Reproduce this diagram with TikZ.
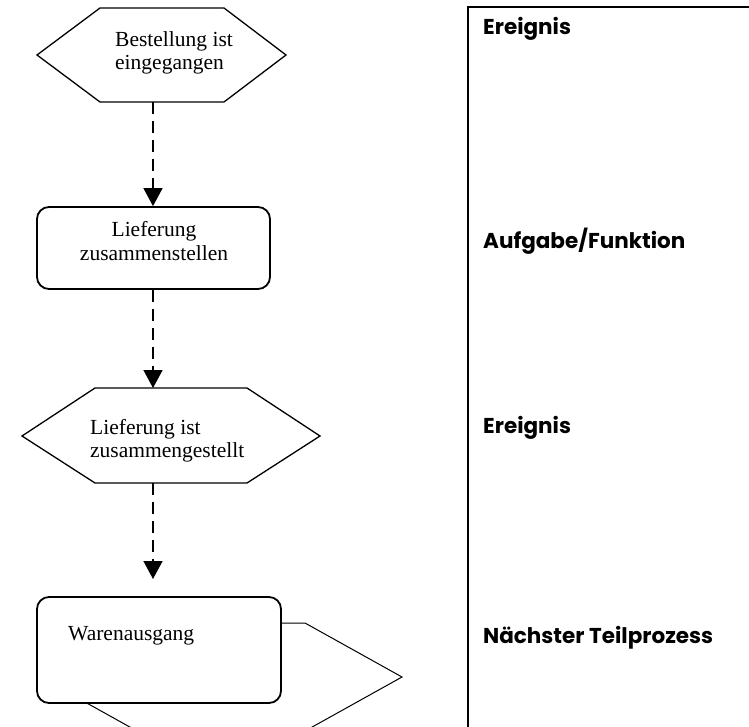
\documentclass[tikz,border=0pt]{standalone}
\usepackage{fontspec}
\setmainfont{Liberation Serif}
\newfontfamily\labelfont{Poppins}
\usetikzlibrary{arrows.meta}
\tikzset{
  evt/.style={draw=black, line width=1.3pt, line join=miter},
  evtthin/.style={draw=black, line width=1pt, fill=white},
  taskbox/.style={draw=black, line width=1.8pt, rounded corners=12pt, fill=white, inner sep=0pt},
  flow/.style={line width=1.5pt, dash pattern=on 12pt off 7pt, -{Triangle[length=18pt,width=19pt]}},
  panel/.style={draw=black, line width=1.5pt},
  lbl/.style={inner sep=0pt, font=\fontsize{21.5}{24}\selectfont},
  lblevt/.style={inner sep=0pt, font=\fontsize{21.5}{23}\selectfont},
  head/.style={inner sep=0pt, anchor=base west, font=\labelfont\bfseries\fontsize{21.5}{24}\selectfont}
}
\begin{document}
\begin{tikzpicture}[x=1pt,y=-1pt]
\useasboundingbox (0,0) rectangle (749,727);
\clip (0,0) rectangle (749,727);
% event 1
\draw[evt] (37,55) -- (100,8) -- (224,8) -- (286,55) -- (224,102) -- (100,102) -- cycle;
\coordinate (e1s) at (153,102);
\node[lblevt, anchor=base west] (t1) at (115,47) {\begin{tabular}[t]{@{}l@{}}Bestellung ist\\eingegangen\end{tabular}};
% task 1
\node[taskbox, minimum width=233pt, minimum height=82pt] (f1) at (153.5,248) {};
\node[lbl, anchor=base] (t2) at (154,237) {\begin{tabular}[t]{@{}c@{}}Lieferung\\zusammenstellen\end{tabular}};
\draw[flow] (e1s) -- (e1s |- f1.north);
% event 2
\draw[evt] (22,436) -- (95,388) -- (247,388) -- (320,436) -- (247,483) -- (95,483) -- cycle;
\coordinate (e2n) at (153,388);
\coordinate (e2s) at (153,483);
\node[lblevt, anchor=base west] (t3) at (90,434) {\begin{tabular}[t]{@{}l@{}}Lieferung ist\\zusammengestellt\end{tabular}};
\draw[flow] (e1s |- f1.south) -- (e2n);
% next process
\draw[evtthin] (40,677) -- (137,623) -- (305,623) -- (402,677) -- (305,731) -- (137,731) -- cycle;
\node[taskbox, minimum width=244pt, minimum height=106pt] (f2) at (159,650) {};
\node[lbl, anchor=base west] (t4) at (68,640) {Warenausgang};
\coordinate (a3) at (153,579);
\draw[flow] (e2s) -- (a3);
% legend panel
\draw[panel] (468,740) -- (468,7) -- (760,7);
\node[head] (h1) at (483,35) {Ereignis};
\node[head] (h2) at (483,248) {Aufgabe/Funktion};
\node[head] (h3) at (483,433) {Ereignis};
\node[head] (h4) at (483,643) {Nächster Teilprozess};
\end{tikzpicture}
\end{document}
